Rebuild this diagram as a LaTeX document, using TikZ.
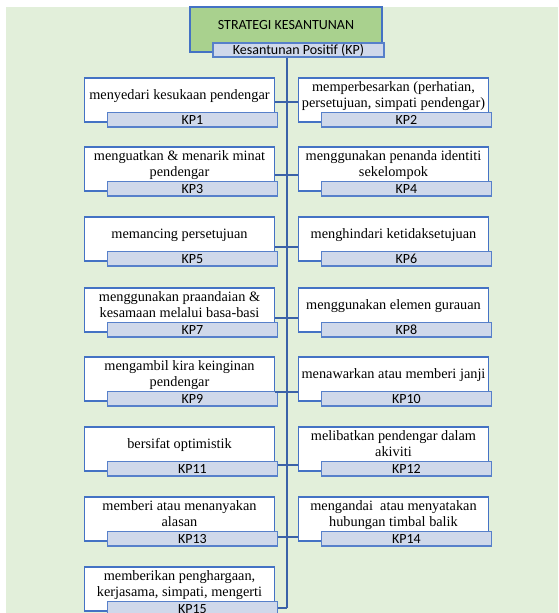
\documentclass[tikz,border=0pt]{standalone}
\usepackage{fontspec}
\setmainfont{Liberation Serif}
\newfontfamily\kpsans{Carlito}
\usepackage{tikz}
\usetikzlibrary{positioning, calc}
\definecolor{bggreen}{HTML}{E2EFDA}
\definecolor{titlegreen}{HTML}{A9D18E}
\definecolor{kpblue}{HTML}{4472C4}
\definecolor{kpline}{HTML}{3A62A8}
\definecolor{kpfill}{HTML}{CFD8EA}

\newcommand{\kptext}[1]{\raisebox{0pt}[\height][\dimexpr\depth+7pt\relax]{%
  \begin{tabular}{@{}c@{}}#1\end{tabular}}}

\begin{document}
\begin{tikzpicture}[x=1pt, y=-1pt,
  every node/.style={font=\fontsize{14.3}{15.5}\selectfont},
  stbox/.style={rectangle, draw=kpblue, line width=1.3pt, fill=white,
                minimum width=190pt, minimum height=44pt, inner sep=0pt},
  titlebox/.style={rectangle, draw=kpblue, line width=1.3pt, fill=titlegreen,
                   minimum width=192pt, minimum height=45pt, inner sep=0pt,
                   font=\kpsans\fontsize{14}{15.5}\selectfont},
  kplabel/.style={rectangle, draw=kpblue!90, line width=1.6pt, fill=kpfill,
                  minimum width=170pt, minimum height=14.5pt, inner sep=0pt,
                  anchor=south east, text height=9pt, text depth=0pt,
                  font=\kpsans\fontsize{14}{14}\selectfont},
  conn/.style={draw=kpline, line width=1.2pt},
  stem/.style={draw=kpline, line width=2.4pt}
]
  \clip (0,0) rectangle (558,613);
  \useasboundingbox (0,0) rectangle (558,613);
  \fill[bggreen] (6,7) rectangle (558,613);

  % title
  \node[titlebox] (title) at (286,29.5) {\kptext{STRATEGI KESANTUNAN}};
  \node[kplabel, anchor=center, minimum width=171pt] (sub) at (298.5,50)
    {Kesantunan Positif (KP)};

  % left column
  \node[stbox] (b1)  at (179.5,100) {\kptext{menyedari kesukaan pendengar}};
  \node[stbox] (b3)  at (179.5,169) {\kptext{menguatkan \& menarik minat\\pendengar}};
  \node[stbox] (b5)  at (179.5,239) {\kptext{memancing persetujuan}};
  \node[stbox] (b7)  at (179.5,310) {\kptext{menggunakan praandaian \&\\kesamaan melalui basa-basi}};
  \node[stbox] (b9)  at (179.5,379) {\kptext{mengambil kira keinginan\\pendengar}};
  \node[stbox] (b11) at (179.5,449) {\kptext{bersifat optimistik}};
  \node[stbox] (b13) at (179.5,519) {\kptext{memberi atau menanyakan\\alasan}};
  \node[stbox] (b15) at (179.5,589) {\kptext{memberikan penghargaan,\\kerjasama, simpati, mengerti}};

  % right column
  \node[stbox] (b2)  at (393.5,100) {\kptext{memperbesarkan (perhatian,\\persetujuan, simpati pendengar)}};
  \node[stbox] (b4)  at (393.5,169) {\kptext{menggunakan penanda identiti\\sekelompok}};
  \node[stbox] (b6)  at (393.5,239) {\kptext{menghindari ketidaksetujuan}};
  \node[stbox] (b8)  at (393.5,310) {\kptext{menggunakan elemen gurauan}};
  \node[stbox] (b10) at (393.5,379) {\kptext{menawarkan atau memberi janji}};
  \node[stbox] (b12) at (393.5,449) {\kptext{melibatkan pendengar dalam\\akiviti}};
  \node[stbox] (b14) at (393.5,519) {\kptext{mengandai\ \ atau menyatakan\\hubungan timbal balik}};

  % KP labels
  \node[kplabel] (l1)  at ([shift={(3,5)}]b1.south east)  {KP1};
  \node[kplabel] (l2)  at ([shift={(3,5)}]b2.south east)  {KP2};
  \node[kplabel] (l3)  at ([shift={(3,5)}]b3.south east)  {KP3};
  \node[kplabel] (l4)  at ([shift={(3,5)}]b4.south east)  {KP4};
  \node[kplabel] (l5)  at ([shift={(3,5)}]b5.south east)  {KP5};
  \node[kplabel] (l6)  at ([shift={(3,5)}]b6.south east)  {KP6};
  \node[kplabel] (l7)  at ([shift={(3,5)}]b7.south east)  {KP7};
  \node[kplabel] (l8)  at ([shift={(3,5)}]b8.south east)  {KP8};
  \node[kplabel] (l9)  at ([shift={(3,5)}]b9.south east)  {KP9};
  \node[kplabel] (l10) at ([shift={(3,5)}]b10.south east) {KP10};
  \node[kplabel] (l11) at ([shift={(3,5)}]b11.south east) {KP11};
  \node[kplabel] (l12) at ([shift={(3,5)}]b12.south east) {KP12};
  \node[kplabel] (l13) at ([shift={(3,5)}]b13.south east) {KP13};
  \node[kplabel] (l14) at ([shift={(3,5)}]b14.south east) {KP14};
  \node[kplabel] (l15) at ([shift={(3,5)}]b15.south east) {KP15};

  % junctions on the stem
  \coordinate (j1) at (287,102);
  \coordinate (j2) at (287,175);
  \coordinate (j3) at (287,247);
  \coordinate (j4) at (287,318);
  \coordinate (j5) at (287,392);
  \coordinate (j6) at (287,465);
  \coordinate (j7) at (287,537);
  \coordinate (j8) at (287,608);

  \draw[stem] (sub.south -| j8) -- (j8);
  \draw[conn] (b1.east |- j1)  -- (j1) -- (b2.west |- j1);
  \draw[conn] (b3.east |- j2)  -- (j2) -- (b4.west |- j2);
  \draw[conn] (b5.east |- j3)  -- (j3) -- (b6.west |- j3);
  \draw[conn] (b7.east |- j4)  -- (j4) -- (b8.west |- j4);
  \draw[conn] (b9.east |- j5)  -- (j5) -- (b10.west |- j5);
  \draw[conn] (l11.east |- j6) -- (j6) -- (b12.west |- j6);
  \draw[conn] (l13.east |- j7) -- (j7) -- (b14.west |- j7);
  \draw[conn] (l15.east |- j8) -- (j8);
\end{tikzpicture}
\end{document}
